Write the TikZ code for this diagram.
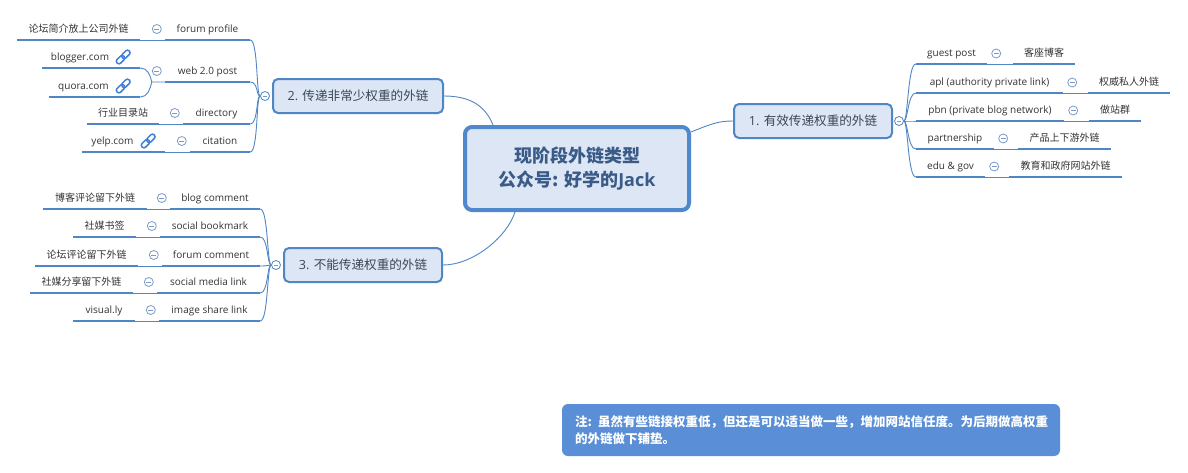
\documentclass[tikz,border=0pt]{standalone}
\usepackage{fontspec}
\setmainfont{Open Sans}
\newfontfamily\cjk{Noto Sans CJK SC}
\newcommand\zh[1]{{\cjk #1}}
\newcommand\iconroom{\hbox to 22pt{}}
\usetikzlibrary{calc}
\definecolor{lineblue}{HTML}{4F86C6}
\definecolor{nodefill}{HTML}{DCE6F4}
\definecolor{rootborder}{HTML}{5088CE}
\definecolor{notefill}{HTML}{5A8FD8}
\definecolor{txt}{HTML}{333333}
\definecolor{brtxt}{HTML}{3A4656}
\definecolor{roottxt}{HTML}{3A5A88}
\definecolor{collc}{HTML}{7D9BC9}
\definecolor{linkc}{HTML}{3F7FD6}
\tikzset{
  linkicon/.pic={
    \draw[linkc, line width=1.5, rotate=45, rounded corners=2.2] (-8.5,-2.5) rectangle (1,2.5);
    \draw[linkc, line width=1.5, rotate=45, rounded corners=2.2] (-1,-2.5) rectangle (8.5,2.5);
  }
}
\begin{document}
\begin{tikzpicture}[x=1pt,y=-1pt,
  topic/.style={anchor=south, minimum height=20, inner xsep=0, inner ysep=0,
    text height=8, text depth=2.5, font=\fontsize{10}{12}\selectfont, text=txt},
  ul/.style={draw=lineblue, line width=2.8},
  conn/.style={draw=lineblue, line width=0.9},
  coll/.style={circle, draw=collc, line width=0.8, fill=white, minimum size=9, inner sep=0,
    path picture={\draw[collc, line width=0.8] ([xshift=-2.4pt]path picture bounding box.center) -- ([xshift=2.4pt]path picture bounding box.center);}},
  bcoll/.style={coll, draw=lineblue},
  branch/.style={rounded corners=5, draw=lineblue, line width=2, fill=nodefill, inner sep=0,
    minimum height=34, font=\fontsize{12.6}{14}\selectfont, text=brtxt},
  rootbox/.style={rounded corners=7, draw=rootborder, line width=4, fill=nodefill,
    minimum width=224, minimum height=83, align=center, inner sep=0,
    font=\bfseries\fontsize{18}{24}\selectfont, text=roottxt},
  notebox/.style={rounded corners=6, fill=notefill, text width=472, inner xsep=13,
    minimum height=52, align=left, font=\bfseries\fontsize{12.5}{17}\selectfont, text=white}
]
\useasboundingbox (0,0) rectangle (1188,472);
\fill[white] (0,0) rectangle (1188,472);

% central and main branches
\node[rootbox] (root) at (577,168.5) {\zh{现阶段外链类型}\\\zh{公众号: 好学的}Jack};
\node[branch, minimum width=158] (b1) at (813,121) {1. \zh{有效传递权重的外链}};
\node[branch, minimum width=170] (b2) at (358,96) {2. \zh{传递非常少权重的外链}};
\node[branch, minimum width=158] (b3) at (363,265) {3. \zh{不能传递权重的外链}};

\draw[conn] ([yshift=-7pt]root.north east) .. controls +(20,-8) and +(-15,0) .. (b1.west);
\draw[conn] ([xshift=30pt]root.north west) .. controls +(-8,-20) and +(25,0) .. (b2.east);
\draw[conn] ([xshift=52pt]root.south west) .. controls +(-8,25) and +(30,0) .. (b3.east);

% branch 2 topics
\node[topic, minimum width=85] (fp) at (207.5,40) {forum profile};
\node[topic, minimum width=123] (fpa) at (78.5,40) {\zh{论坛简介放上公司外链}};
\node[topic, minimum width=85] (wp) at (207.5,82) {web 2.0 post};
\node[topic, minimum width=98] (wpa) at (91,68) {blogger.com\iconroom};
\node[topic, minimum width=91] (wpb) at (94.5,97) {quora.com\iconroom};
\node[topic, minimum width=67] (dr) at (216.5,124) {directory};
\node[topic, minimum width=72] (dra) at (123,124) {\zh{行业目录站}};
\node[topic, minimum width=60] (ct) at (220,152) {citation};
\node[topic, minimum width=83] (cta) at (123.5,152) {yelp.com\iconroom};

% branch 3 topics
\node[topic, minimum width=90] (bc) at (215,209) {blog comment};
\node[topic, minimum width=104] (bca) at (95,209) {\zh{博客评论留下外链}};
\node[topic, minimum width=100] (sb) at (210,237) {social bookmark};
\node[topic, minimum width=63] (sba) at (104.5,237) {\zh{社媒书签}};
\node[topic, minimum width=98] (fc) at (211,266) {forum comment};
\node[topic, minimum width=103] (fca) at (86.5,266) {\zh{论坛评论留下外链}};
\node[topic, minimum width=103] (sm) at (208.5,293) {social media link};
\node[topic, minimum width=103] (sma) at (81.5,293) {\zh{社媒分享留下外链}};
\node[topic, minimum width=101] (is) at (209.5,321) {image share link};
\node[topic, minimum width=62] (isa) at (104,321) {visual.ly};

% branch 1 topics
\node[topic, minimum width=71] (gp) at (951.5,64) {guest post};
\node[topic, minimum width=62] (gpa) at (1044,64) {\zh{客座博客}};
\node[topic, minimum width=147] (ap) at (989.5,93) {apl (authority private link)};
\node[topic, minimum width=82] (apa) at (1129,93) {\zh{权威私人外链}};
\node[topic, minimum width=148] (pb) at (990,121) {pbn (private blog network)};
\node[topic, minimum width=52] (pba) at (1115,121) {\zh{做站群}};
\node[topic, minimum width=78] (ps) at (955,149) {partnership};
\node[topic, minimum width=93] (psa) at (1064.5,149) {\zh{产品上下游外链}};
\node[topic, minimum width=69] (eg) at (950.5,177) {edu \& gov};
\node[topic, minimum width=113] (ega) at (1065.5,177) {\zh{教育和政府网站外链}};

% underlines
\foreach \n in {fp,fpa,wp,wpa,wpb,dr,dra,ct,cta,bc,bca,sb,sba,fc,fca,sm,sma,is,isa,gp,gpa,ap,apa,pb,pba,ps,psa,eg,ega}
  \draw[ul] (\n.south west) -- (\n.south east);

% link icons
\pic at ($(wpa.south east)+(-17,-11)$) {linkicon};
\pic at ($(wpb.south east)+(-17,-11)$) {linkicon};
\pic at ($(cta.south east)+(-17,-11)$) {linkicon};

% branch collapse circles
\node[bcoll] (b1c) at ([xshift=6pt]b1.east) {};
\node[bcoll] (b2c) at ([xshift=-7pt]b2.west) {};
\node[bcoll] (b3c) at ([xshift=-7pt]b3.west) {};

% spines
\foreach \n in {fp,wp,dr,ct}
  \draw[conn] (b2c.west) .. controls +(-4,0) and +(8,0) .. (\n.south east);
\foreach \n in {bc,sb,fc,sm,is}
  \draw[conn] (b3c.west) .. controls +(-4,0) and +(8,0) .. (\n.south east);
\foreach \n in {gp,ap,pb,ps,eg}
  \draw[conn] (b1c.east) .. controls +(4,0) and +(-8,0) .. (\n.south west);

% child to grandchild connectors
\foreach \c/\g in {fp/fpa,dr/dra,ct/cta,bc/bca,sb/sba,fc/fca,sm/sma,is/isa}
  \draw[conn] (\c.south west) -- (\g.south east);
\foreach \c/\g in {gp/gpa,ap/apa,pb/pba,ps/psa,eg/ega}
  \draw[conn] (\c.south east) -- (\g.south west);
\coordinate (wj) at ($(wp.south west)+(-13,0)$);
\draw[conn] (wp.south west) -- (wj) .. controls +(-2,-8) and +(7,0) .. (wpa.south east);
\draw[conn] (wj) .. controls +(-2,8) and +(7,0) .. (wpb.south east);

% child collapse circles
\foreach \c in {fp,wp,dr,ct,bc,sb,fc,sm,is}
  \node[coll] (\c-coll) at ($(\c.south west)+(-8,-11)$) {};
\foreach \c in {gp,ap,pb,ps,eg}
  \node[coll] (\c-coll) at ($(\c.south east)+(9,-10.5)$) {};

% note
\node[notebox] (note) at (811,430) {\zh{注: 虽然有些链接权重低，但还是可以适当做一些，增加网站信任度。为后期做高权重}\\\zh{的外链做下铺垫。}};
\end{tikzpicture}
\end{document}
